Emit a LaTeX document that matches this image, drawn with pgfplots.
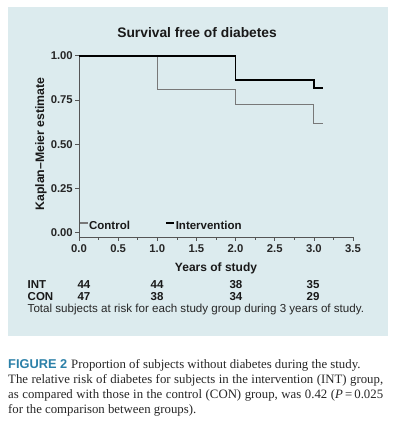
\documentclass[border=0pt]{standalone}
\usepackage{fontspec}
\setmainfont{Liberation Sans}
\newfontfamily\capserif{Liberation Serif}
\usepackage{pgfplots}
\pgfplotsset{compat=1.18}
\definecolor{panel}{HTML}{DCEBEE}
\definecolor{capblue}{HTML}{2B80A8}
\definecolor{congray}{HTML}{787878}
\definecolor{axisgray}{HTML}{555555}

\begin{document}
\begin{tikzpicture}[x=1pt,y=1pt]
\useasboundingbox (0,0) rectangle (398,426);
\fill[white] (0,0) rectangle (398,426);
\fill[panel] (8,90) rectangle (388,419);
\begin{axis}[
  at={(79pt,188.7pt)}, anchor=south west, scale only axis,
  width=274pt, height=181.6pt,
  xmin=0, xmax=3.5, ymin=-0.027, ymax=1,
  clip=false,
  axis x line*=bottom, axis y line*=left,
  axis line style={draw=axisgray, line width=0.8pt},
  xtick={0,0.5,1,1.5,2,2.5,3,3.5},
  minor x tick num=1,
  ytick={0,0.25,0.5,0.75,1},
  tick align=outside, major tick length=3.5pt, minor tick length=2.5pt,
  tick style={draw=axisgray, line width=0.7pt},
  /pgf/number format/assume math mode=true,
  ticklabel style={font=\bfseries\fontsize{11.3}{12}\selectfont, text=black!85},
  xticklabel style={/pgf/number format/.cd, fixed, fixed zerofill, precision=1},
  yticklabel style={/tikz/xshift=0.8pt, /pgf/number format/.cd, fixed, fixed zerofill, precision=2},
  title={Survival free of diabetes},
  title style={font=\bfseries\fontsize{13.8}{15}\selectfont, text=black!90,
    at={(axis description cs:0.431,1)}, anchor=center, yshift=16.7pt},
  xlabel={Years of study},
  xlabel style={font=\bfseries\fontsize{12}{13}\selectfont, text=black!90,
    at={(axis description cs:0.5,-0.169)}, anchor=center},
  ylabel={Kaplan\textendash Meier estimate},
  ylabel style={font=\bfseries\fontsize{12.3}{13}\selectfont, text=black!90,
    at={(axis description cs:-0.1387,0.514)}, anchor=center},
  legend columns=2,
  legend image code/.code={\draw[#1] (0pt,3pt) -- (8pt,3pt);},
  legend style={at={(axis cs:0,0.037)}, anchor=west, draw=none, fill=none,
    inner sep=0pt, outer sep=0pt,
    font=\bfseries\fontsize{11.5}{12}\selectfont, text=black!90,
    /tikz/every even column/.append style={column sep=34pt},
    nodes={inner sep=1pt}},
]
\addplot[congray, line width=1.1pt, line join=miter] coordinates {
  (0,1) (1,1) (1,0.81) (2,0.81) (2,0.723) (3,0.723) (3,0.617) (3.12,0.617)};
\addlegendentry{Control}
\addplot[black, line width=1.8pt, line join=miter] coordinates {
  (0,1) (2,1) (2,0.864) (3,0.864) (3,0.818) (3.12,0.818)};
\addlegendentry{Intervention}
\end{axis}
% numbers at risk
\begin{scope}[every node/.style={inner sep=0pt, font=\bfseries\fontsize{11.5}{12}\selectfont, text=black!90}]
\node[anchor=base west] at (27.5,137.5) {INT};
\node[anchor=base west] at (27.5,125.5) {CON};
\node[anchor=base] at (84,137.5) {44};
\node[anchor=base] at (157,137.5) {44};
\node[anchor=base] at (236,137.5) {38};
\node[anchor=base] at (313,137.5) {35};
\node[anchor=base] at (84,125.5) {47};
\node[anchor=base] at (157,125.5) {38};
\node[anchor=base] at (236,125.5) {34};
\node[anchor=base] at (313,125.5) {29};
\end{scope}
\node[anchor=base west, inner sep=0pt, font=\fontsize{11.6}{12}\selectfont, text=black!85] at (27.5,113.5) {Total subjects at risk for each study group during 3 years of study.};
% caption
\begin{scope}[every node/.style={inner sep=0pt, anchor=base west, font=\capserif\fontsize{12.8}{14}\selectfont, text=black!85}]
\node at (8,57.5) {{\fontspec{Liberation Sans}\bfseries\color{capblue}FIGURE 2}\hspace{4pt}Proportion of subjects without diabetes during the study.};
\node at (8,42.5) {\makebox[375pt][s]{The relative risk of diabetes for subjects in the intervention (INT) group,}};
\node at (8,27.5) {\makebox[375pt][s]{as compared with those in the control (CON) group, was 0.42 (\textit{P}\,=\,0.025}};
\node at (8,12.5) {for the comparison between groups).};
\end{scope}
\end{tikzpicture}
\end{document}
